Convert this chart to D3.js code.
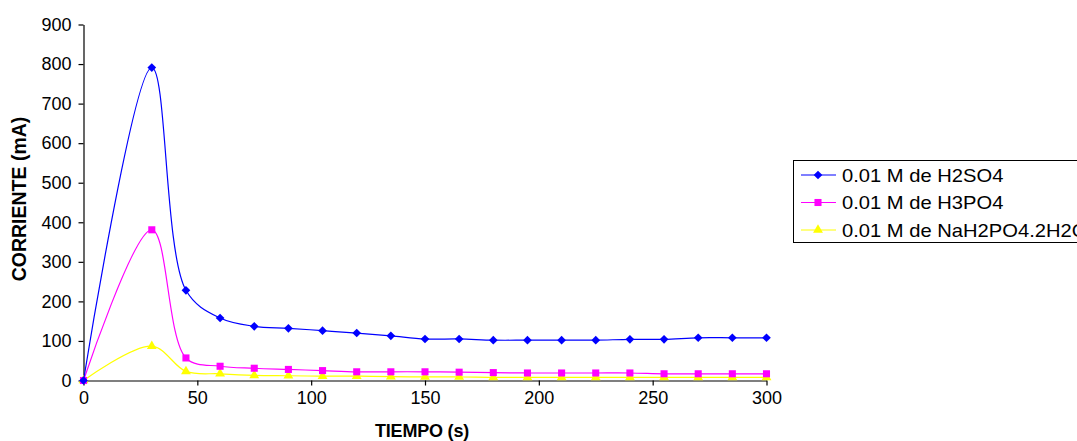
<!DOCTYPE html>
<html>
<head>
<meta charset="utf-8">
<script src="https://cdn.jsdelivr.net/npm/d3@7"></script>
<style>
  html, body { margin: 0; padding: 0; background: #fff; }
  svg { display: block; }
  text { font-family: "Liberation Sans", Arial, sans-serif; fill: #000; }
</style>
</head>
<body>
<svg id="chart" width="1077" height="441"></svg>
<script>
// Time in seconds
const tiempo = [0, 30, 45, 60, 75, 90, 105, 120, 135, 150, 165, 180, 195, 210, 225, 240, 255, 270, 285, 300];

// Current (mA) for each electrolyte
const h2so4 = [0, 791, 228, 158, 137, 132, 126, 120, 113, 105, 105, 102, 102, 102, 102, 104, 104, 108, 108, 108];
const h3po4 = [0, 381, 57, 36, 31, 28, 25, 22, 22, 22, 21, 20, 19, 19, 19, 19, 17, 17, 17, 17];
const nah2po4 = [0, 87, 23, 17, 13, 12, 11, 11, 10, 9, 9, 8, 8, 8, 8, 8, 8, 8, 8, 8];

const seriesNames = ["0.01 M de H2SO4", "0.01 M de H3PO4", "0.01 M de NaH2PO4.2H2O"];
const xTicks = [0, 50, 100, 150, 200, 250, 300];
const yTicks = [0, 100, 200, 300, 400, 500, 600, 700, 800, 900];

const svg = d3.select("#chart");

const x = d3.scaleLinear().domain([0, 300]).range([83.5, 766.5]);
const y = d3.scaleLinear().domain([0, 900]).range([380.5, 24.5]);

const series = [
  { name: seriesNames[0], values: h2so4, color: "#0000FF", symbol: d3.symbolDiamond2, size: 48 },
  { name: seriesNames[1], values: h3po4, color: "#FF00FF", symbol: d3.symbolSquare, size: 50 },
  { name: seriesNames[2], values: nah2po4, color: "#FFFF00", symbol: d3.symbolTriangle, size: 42 }
];

// Axes
const xAxis = d3.axisBottom(x).tickValues(xTicks).tickSize(5).tickSizeOuter(0).tickPadding(6);
const yAxis = d3.axisLeft(y).tickValues(yTicks).tickSize(5).tickSizeOuter(0).tickPadding(7);

const gx = svg.append("g").attr("transform", `translate(0,${y(0)})`).call(xAxis);
const gy = svg.append("g").attr("transform", `translate(${x(0)},0)`).call(yAxis);
[gx, gy].forEach(g => {
  g.selectAll("path, line").attr("stroke", "#000").attr("stroke-width", 1.2);
  g.selectAll("text").attr("font-size", 18).attr("font-family", "Liberation Sans, Arial, sans-serif");
});

// Axis titles
svg.append("text")
  .attr("x", 422).attr("y", 437)
  .attr("text-anchor", "middle")
  .attr("font-size", 18).attr("font-weight", "bold")
  .attr("letter-spacing", -0.2)
  .text("TIEMPO (s)");

svg.append("text")
  .attr("transform", `translate(26,199) rotate(-90)`)
  .attr("text-anchor", "middle")
  .attr("font-size", 19.5).attr("font-weight", "bold")
  .text("CORRIENTE (mA)");

// Smoothed lines
const line = d3.line()
  .x((d, i) => x(tiempo[i]))
  .y(d => y(d))
  .curve(d3.curveCatmullRom.alpha(0.5));

const plot = svg.append("g");
// yellow first so blue sits on top
series.slice().reverse().forEach(s => {
  const g = plot.append("g");
  g.append("path")
    .attr("d", line(s.values))
    .attr("fill", "none")
    .attr("stroke", s.color)
    .attr("stroke-width", 1.2);
  g.selectAll("path.m")
    .data(s.values)
    .join("path")
    .attr("class", "m")
    .attr("transform", (d, i) => `translate(${x(tiempo[i])},${y(d)})`)
    .attr("d", d3.symbol().type(s.symbol).size(s.size))
    .attr("fill", s.color);
});

// Legend (box runs past the right edge of the canvas)
const legend = svg.append("g");
legend.append("rect")
  .attr("x", 793.5).attr("y", 160.5)
  .attr("width", 320).attr("height", 82)
  .attr("fill", "#fff").attr("stroke", "#000").attr("stroke-width", 1);

series.forEach((s, i) => {
  const cy = 175 + i * 27.5;
  legend.append("line")
    .attr("x1", 801).attr("x2", 836)
    .attr("y1", cy).attr("y2", cy)
    .attr("stroke", s.color).attr("stroke-width", 1.2);
  legend.append("path")
    .attr("transform", `translate(818,${cy})`)
    .attr("d", d3.symbol().type(s.symbol).size(s.size))
    .attr("fill", s.color);
  legend.append("text")
    .attr("transform", `translate(842,${cy + 6.5}) scale(1.12,1)`)
    .attr("font-size", 18)
    .text(s.name);
});
</script>
</body>
</html>
